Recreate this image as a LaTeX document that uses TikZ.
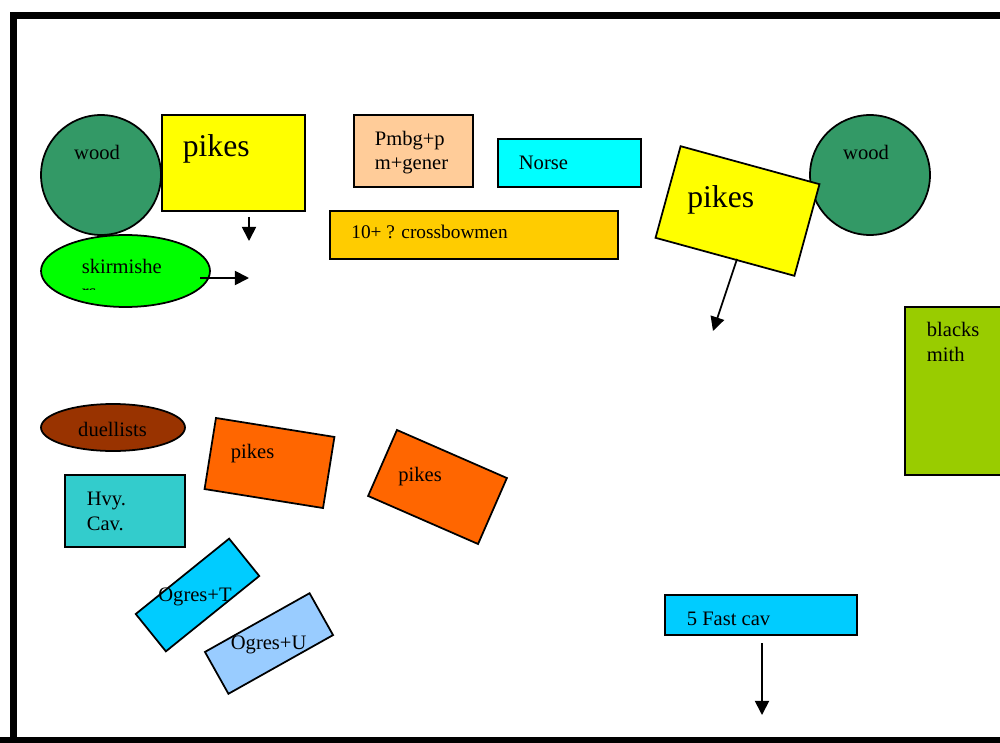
\documentclass[tikz,border=0pt]{standalone}
\usepackage{fontspec}
\setmainfont{Liberation Serif}
\usetikzlibrary{shapes.geometric,arrows.meta}
\definecolor{woodgreen}{HTML}{339966}
\definecolor{pikeyellow}{HTML}{FFFF00}
\definecolor{skirmgreen}{HTML}{00FF00}
\definecolor{pmbgpeach}{HTML}{FFCC99}
\definecolor{norsecyan}{HTML}{00FFFF}
\definecolor{xbowgold}{HTML}{FFCC00}
\definecolor{smithlime}{HTML}{99CC00}
\definecolor{duelbrown}{HTML}{993300}
\definecolor{hvyteal}{HTML}{33CCCC}
\definecolor{pikeorange}{HTML}{FF6600}
\definecolor{ogreblue}{HTML}{00CCFF}
\definecolor{ogrelight}{HTML}{99CCFF}
\tikzset{
    every node/.style={inner sep=0mm, line width=1pt}
}
\tikzset{unit/.style={draw, rectangle}}
\tikzset{blob/.style={draw, ellipse}}
\tikzset{txt/.style={anchor=base west, align=left, font=\fontsize{11.7}{14.2}\selectfont}}
\tikzset{bigtxt/.style={anchor=base west, font=\fontsize{18}{21}\selectfont}}
\tikzset{mv/.style={-{Triangle[length=8pt,width=8pt]}, line width=1pt}}

\begin{document}
\begin{tikzpicture}[x=0.02cm, y=-0.02cm]
        \useasboundingbox (0,0) rectangle (1000,743);
        \clip (0,0) rectangle (1000,743);
        % woods
        \node (w1) [draw, circle, fill=woodgreen, minimum size=2.4cm] at (101,175) {};
        \node (w2) [draw, circle, fill=woodgreen, minimum size=2.4cm] at (870,175) {};
        \node (w1t) [txt, anchor=base] at (97,160) {wood};
        \node (w2t) [txt, anchor=base] at (866,160) {wood};
        % top line
        \node (pk1) [unit, fill=pikeyellow, minimum width=2.86cm, minimum height=1.92cm] at (233.5,163) {};
        \node (pk1t) [bigtxt] at (182,157) {pikes};
        \node (sk) [blob, fill=skirmgreen, minimum width=3.38cm, minimum height=1.44cm] at (125.5,271) {};
        \node (skt) [txt] at (81,273) {skirmishe};
        \begin{scope}
                \clip (60,240) rectangle (200,289);
                \node (skt2) [txt] at (81,298) {rs};
        \end{scope}
        \node (pm) [unit, fill=pmbgpeach, minimum width=2.38cm, minimum height=1.44cm] at (413.5,151) {};
        \node (pmt) [txt] at (374,170) {Pmbg+p\\m+gener};
        \node (no) [unit, fill=norsecyan, minimum width=2.86cm, minimum height=.96cm] at (569.5,163) {};
        \node (not) [txt] at (518,170) {Norse};
        \node (xb) [unit, fill=xbowgold, minimum width=5.76cm, minimum height=.96cm] at (474,235) {};
        \node (xbt) [txt, font=\fontsize{11}{13}\selectfont] at (350.5,238.5) {10+ ? crossbowmen};
        \node (pk2) [unit, fill=pikeyellow, minimum width=2.88cm, minimum height=1.9cm, rotate=-15.3] at (737.5,211) {};
        \node (pk2t) [bigtxt] at (686.5,208) {pikes};
        \node (bs) [unit, fill=smithlime, minimum width=2.4cm, minimum height=3.36cm] at (965,391) {};
        \node (bst) [txt] at (926,361.5) {blacks\\mith};
        % bottom left
        \node (du) [blob, fill=duelbrown, minimum width=2.88cm, minimum height=.94cm] at (113,427.5) {};
        \node (dut) [txt, anchor=base] at (112.5,436.5) {duellists};
        \node (hc) [unit, fill=hvyteal, minimum width=2.4cm, minimum height=1.44cm] at (125,511) {};
        \node (hct) [txt] at (86,530) {Hvy.\\Cav.};
        \node (pk3) [unit, fill=pikeorange, minimum width=2.4cm, minimum height=1.44cm, rotate=-9.1] at (269.5,463) {};
        \node (pk3t) [txt] at (230,458.5) {pikes};
        \node (pk4) [unit, fill=pikeorange, minimum width=2.4cm, minimum height=1.44cm, rotate=-23.6] at (437.5,487) {};
        \node (pk4t) [txt] at (397.5,481.5) {pikes};
        \node (ot) [unit, fill=ogreblue, minimum width=2.4cm, minimum height=.96cm, rotate=38.9] at (197.5,595) {};
        \node (ott) [txt] at (157.5,601.5) {Ogres+T};
        \node (ou) [unit, fill=ogrelight, minimum width=2.4cm, minimum height=.96cm, rotate=29.3] at (269,643.5) {};
        \node (out) [txt] at (230,649) {Ogres+U};
        \node (fc) [unit, fill=ogreblue, minimum width=3.84cm, minimum height=.8cm] at (761,615) {};
        \node (fct) [txt] at (686,625) {5 Fast cav};
        % moves
        \coordinate (m1a) at (249,217);
        \coordinate (m1b) at (249,241);
        \coordinate (m2a) at (200,278);
        \coordinate (m2b) at (249,278);
        \coordinate (m3a) at (737,259);
        \coordinate (m3b) at (713,331);
        \coordinate (m4a) at (762,643);
        \coordinate (m4b) at (762,715);
        \draw [mv] (m1a) -- (m1b);
        \draw [mv] (m2a) -- (m2b);
        \draw [mv] (m3a) -- (m3b);
        \draw [mv] (m4a) -- (m4b);
        % frame
        \draw [line width=4pt] (13.5,1200) |- (1100,15.5);
        \draw [line width=4pt] (0,741) -- (1100,741);
\end{tikzpicture}
\end{document}
